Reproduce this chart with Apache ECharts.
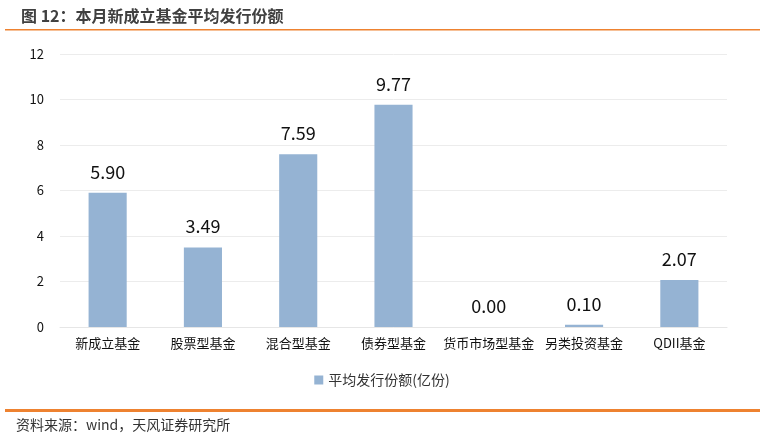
<!DOCTYPE html>
<html><head><meta charset="utf-8">
<script src="https://cdn.jsdelivr.net/npm/echarts@6/dist/echarts.min.js"></script>
<style>html,body{margin:0;padding:0;background:#fff}#c{width:764px;height:437px}</style>
</head><body><div id="c"></div>
<script>
const categories = ['新成立基金','股票型基金','混合型基金','债券型基金','货币市场型基金','另类投资基金','QDII基金'];
const values = [5.90, 3.49, 7.59, 9.77, 0.00, 0.10, 2.07];
const seriesName = '平均发行份额(亿份)';
const titleText = '图 12：本月新成立基金平均发行份额';
const sourceText = '资料来源：wind，天风证券研究所';
const ff = '"Noto Sans CJK SC","Noto Sans",sans-serif';
const chart = echarts.init(document.getElementById('c'), null, {renderer:'canvas'});
chart.setOption({
  animation:false,
  backgroundColor:'#fff',
  title:{text:titleText,left:16,top:3,textStyle:{fontFamily:ff,fontSize:16,fontWeight:'bold',color:'#404040'}},
  graphic:[
    {type:'rect',shape:{x:5,y:29,width:755,height:1.5},style:{fill:'#ee8230'}},
    {type:'rect',shape:{x:5,y:409,width:755,height:3},style:{fill:'#ee8230'}},
    {type:'text',left:16,top:418,style:{text:sourceText,font:'14px "Noto Sans CJK SC",sans-serif',fill:'#333'}}
  ],
  legend:{data:[seriesName],bottom:45,left:'center',itemWidth:9,itemHeight:9,icon:'rect',itemGap:6,
    textStyle:{fontFamily:ff,fontSize:14,color:'#333'}},
  grid:{left:60,right:37,top:54,bottom:110,containLabel:false},
  xAxis:{type:'category',data:categories,axisTick:{show:false},
    axisLine:{show:true,lineStyle:{color:'#e6e6e6'}},
    axisLabel:{fontFamily:ff,fontSize:13,color:'#111',margin:10,interval:0}},
  yAxis:{type:'value',min:0,max:12,interval:2,
    axisLine:{show:false},axisTick:{show:false},
    splitLine:{lineStyle:{color:'#ececec'}},
    axisLabel:{fontFamily:ff,fontSize:13,color:'#111',margin:16}},
  series:[{name:seriesName,type:'bar',data:values,barWidth:'40%',
    itemStyle:{color:'#95b3d3'},
    label:{show:true,position:'top',distance:12,fontFamily:ff,fontSize:18,color:'#111',
      formatter:p=>p.value.toFixed(2)}}]
});
</script></body></html>
